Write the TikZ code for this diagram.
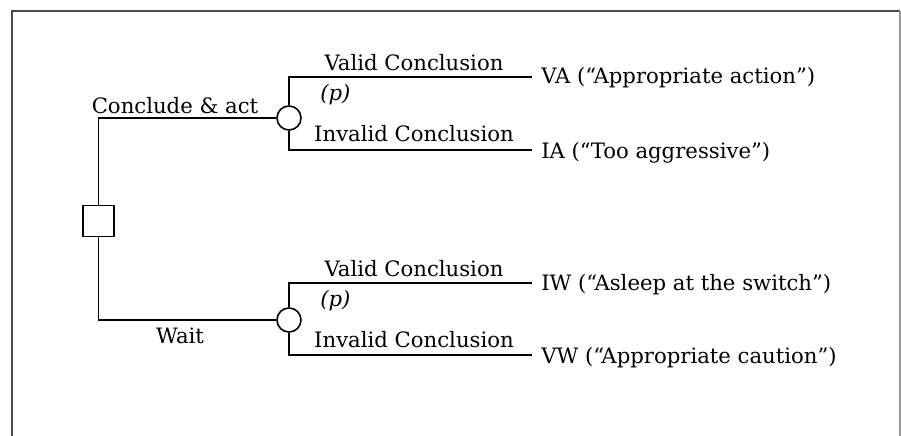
\documentclass[tikz,border=0pt]{standalone}
\usepackage{fontspec}
\setmainfont{DejaVu Serif}
\begin{document}
\begin{tikzpicture}[x=0.75pt,y=-0.75pt,
  ln/.style={line width=1.2pt,black},
  lbl/.style={font=\fontsize{15.9}{19}\selectfont,inner sep=0pt},
  outc/.style={font=\fontsize{15.9}{19}\selectfont,inner sep=0pt,anchor=base west},
  chance/.style={circle,draw,line width=1.2pt,minimum size=18pt,inner sep=0pt},
  decision/.style={rectangle,draw,line width=1.2pt,minimum size=23.25pt,inner sep=0pt}]
\useasboundingbox (0,0) rectangle (901,436);
% frame
\draw[line width=1.5pt,color=black!70] (12,437) -- (12,11) -- (900,11);
\draw[line width=0.8pt,color=black!40] (900,11) -- (900,437);
% nodes
\node[decision] (dec) at (98.5,221) {};
\node[chance] (c1) at (289,118) {};
\node[chance] (c2) at (289,320) {};
\coordinate (tA) at (98.5,118);
\coordinate (tW) at (98.5,320);
\coordinate (b1) at (289,77);
\coordinate (b2) at (289,150);
\coordinate (b3) at (289,283);
\coordinate (b4) at (289,355);
% outcomes
\node[outc] (VA) at (541,83) {VA (“Appropriate action”)};
\node[outc] (IA) at (541,158) {IA (“Too aggressive”)};
\node[outc] (IW) at (541,290) {IW (“Asleep at the switch”)};
\node[outc] (VW) at (541,363) {VW (“Appropriate caution”)};
% connectors
\draw[ln] (dec.north) -- (tA) -- (c1.west);
\draw[ln] (dec.south) -- (tW) -- (c2.west);
\draw[ln] (c1.north) -- (b1) -- (b1 -| 532,0);
\draw[ln] (c1.south) -- (b2) -- (b2 -| 532,0);
\draw[ln] (c2.north) -- (b3) -- (b3 -| 532,0);
\draw[ln] (c2.south) -- (b4) -- (b4 -| 532,0);
% labels
\node[lbl,anchor=base] (l1) at (175,113) {Conclude \& act};
\node[lbl,anchor=base] (l2) at (180,343) {Wait};
\node[lbl,anchor=base] (v1) at (414,70) {Valid Conclusion};
\node[lbl,anchor=base] (i1) at (414,141) {Invalid Conclusion};
\node[lbl,anchor=base west] (p1) at (320,100) {\itshape (p)};
\node[lbl,anchor=base] (v2) at (414,276) {Valid Conclusion};
\node[lbl,anchor=base] (i2) at (414,347) {Invalid Conclusion};
\node[lbl,anchor=base west] (p2) at (320,306) {\itshape (p)};
\end{tikzpicture}
\end{document}
